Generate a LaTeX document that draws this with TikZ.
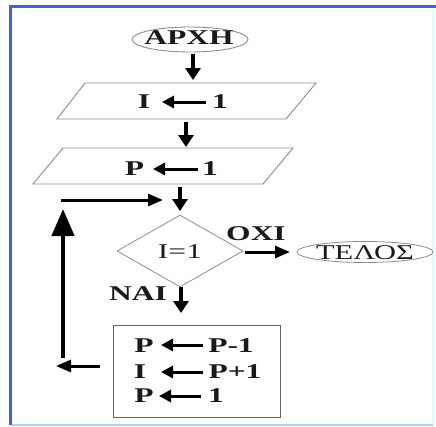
\documentclass[tikz,border=0pt]{standalone}
\usepackage{fontspec}
\setmainfont{Liberation Serif}
\usetikzlibrary{arrows.meta,shapes.geometric}
\newcommand{\wtxt}[1]{\scalebox{1.5}[1]{#1}}
\definecolor{ink}{RGB}{25,25,25}
\definecolor{edge}{RGB}{140,140,140}
\definecolor{frameblue}{RGB}{60,100,210}
\definecolor{framelight}{RGB}{175,210,240}
\definecolor{frameright}{RGB}{232,247,250}
\begin{document}
\begin{tikzpicture}[x=1pt,y=-1pt,
  lbl/.style={font=\fontsize{21}{24}\selectfont\bfseries, text=ink, inner sep=0pt, anchor=base},
  lblr/.style={lbl, font=\fontsize{21}{24}\selectfont},
  shapeline/.style={draw=edge, line width=0.9pt},
  flow/.style={draw=black, line width=3.5pt, -{Triangle[length=12pt,width=15pt]}},
  hflow/.style={draw=black, line width=3pt, -{Triangle[length=15pt,width=12pt]}},
  tarr/.style={draw=black, line width=3pt, -{Triangle[length=12pt,width=12pt]}},
  back/.style={draw=black, line width=4.5pt, -{Triangle[length=27pt,width=22pt]}},
]
\useasboundingbox (0,0) rectangle (436,426);
\fill[white] (0,0) rectangle (436,426);
% frame
\draw[frameright, line width=3pt] (433,7) -- (433,424);
\draw[framelight, line width=2pt] (11,424.5) -- (433,424.5);
\draw[frameblue, line width=3pt] (10,425) -- (10,6.5) -- (436,6.5);

% start
\node[ellipse, shapeline, minimum width=116pt, minimum height=25pt, inner sep=0pt] (start) at (190,39.5) {};
\node[lbl] (startt) at (189,44.5) {\wtxt{ΑΡΧΗ}};

% parallelogram 1
\draw[shapeline] (85,83) -- (316,83) -- (286,119) -- (57,119) -- cycle;
\node[lbl] (i1n) at (144,108.5) {\wtxt{I}};
\node[lbl] (i1v) at (220,108.5) {\wtxt{1}};
\coordinate (i1s) at (206,102);
\coordinate (i1e) at (162,102);
\draw[tarr] (i1s) -- (i1e);

% parallelogram 2
\draw[shapeline] (63,148) -- (293,148) -- (263,184) -- (33,184) -- cycle;
\node[lbl] (p1n) at (134.5,175.5) {\wtxt{P}};
\node[lbl] (p1v) at (210,175.5) {\wtxt{1}};
\coordinate (p1s) at (198,169);
\coordinate (p1e) at (153,169);
\draw[tarr] (p1s) -- (p1e);

% decision
\node[diamond, draw=edge, line width=0.8pt, minimum width=126pt, minimum height=72pt, inner sep=0pt] (dec) at (180,251) {};
\node[lblr] (dect) at (180,258) {\wtxt{I=1}};

% end
\node[ellipse, draw=edge, line width=0.8pt, minimum width=136pt, minimum height=21pt, inner sep=0pt] (stop) at (365,252) {};
\node[lblr] (stopt) at (365,259) {\scalebox{1.45}[1]{ΤΕΛΟΣ}};

% labels
\node[lbl] (no) at (256,240.5) {\wtxt{ΟΧΙ}};
\node[lbl] (yes) at (138,300.5) {\wtxt{ΝΑΙ}};

% process box
\node[draw=black!60, line width=0.9pt, minimum width=167pt, minimum height=92pt, inner sep=0pt] (box) at (196.5,371) {};
\node[lbl] (b1n) at (144,352.5) {\wtxt{P}};
\node[lbl] (b1v) at (231,352.5) {\wtxt{P-1}};
\node[lbl] (b2n) at (140,378.5) {\wtxt{I}};
\node[lbl] (b2v) at (235,378.5) {\wtxt{P+1}};
\node[lbl] (b3n) at (144,402.5) {\wtxt{P}};
\node[lbl] (b3v) at (216,402.5) {\wtxt{1}};
\coordinate (b1s) at (203,345); \coordinate (b1e) at (161,345);
\coordinate (b2s) at (203,372); \coordinate (b2e) at (161,372);
\coordinate (b3s) at (201,396); \coordinate (b3e) at (159,396);
\draw[tarr] (b1s) -- (b1e);
\draw[tarr] (b2s) -- (b2e);
\draw[tarr] (b3s) -- (b3e);

% flow arrows
\coordinate (f1s) at (193,54);  \coordinate (f1e) at (193,80);
\coordinate (f2s) at (186,122); \coordinate (f2e) at (186,147);
\coordinate (f3s) at (180,187); \coordinate (f3e) at (180,211);
\coordinate (f4s) at (181,287); \coordinate (f4e) at (181,313);
\coordinate (f5s) at (245,252); \coordinate (f5e) at (290,252);
\draw[flow] (f1s) -- (f1e);
\draw[flow] (f2s) -- (f2e);
\draw[flow] (f3s) -- (f3e);
\draw[flow] (f4s) -- (f4e);
\draw[hflow] (f5s) -- (f5e);

% loop back
\coordinate (l1s) at (100,366); \coordinate (l1e) at (56,366);
\coordinate (l2s) at (63,358);  \coordinate (l2e) at (63,209);
\coordinate (l3s) at (61,200);  \coordinate (l3e) at (163,200);
\draw[hflow] (l1s) -- (l1e);
\draw[back] (l2s) -- (l2e);
\draw[hflow] (l3s) -- (l3e);
\end{tikzpicture}
\end{document}
